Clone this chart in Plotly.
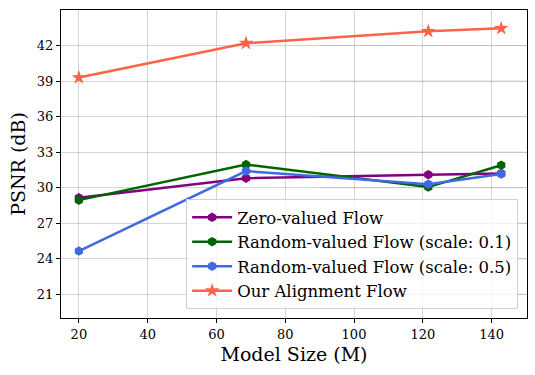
import plotly.graph_objects as go

model_size = [20, 68.6, 121.6, 142.8]
zero_flow = [29.15, 30.8, 31.1, 31.2]
rand_flow_01 = [28.95, 31.95, 30.05, 31.9]
rand_flow_05 = [24.65, 31.4, 30.3, 31.15]
our_flow = [39.3, 42.2, 43.2, 43.45]

y_ticks = [21, 24, 27, 30, 33, 36, 39, 42]
x_ticks = [20, 40, 60, 80, 100, 120, 140]

series = [
    ('Zero-valued Flow', zero_flow, '#800080', 'hexagon'),
    ('Random-valued Flow (scale: 0.1)', rand_flow_01, '#006400', 'hexagon'),
    ('Random-valued Flow (scale: 0.5)', rand_flow_05, '#4169E1', 'hexagon'),
    ('Our Alignment Flow', our_flow, '#FF6347', 'star'),
]

grid = 'rgba(176,176,176,0.55)'
x_range = [14.8, 150.3]

fig = go.Figure()
for name, vals, color, sym in series:
    fig.add_trace(go.Scatter(
        x=model_size, y=vals, name=name, mode='lines+markers',
        line=dict(color=color, width=2.5),
        marker=dict(symbol=sym, size=9.5 if sym == 'hexagon' else 11, color=color),
    ))

# the original has its horizontal grid drawn twice on the right part
for yt in y_ticks:
    fig.add_shape(type='line', xref='x', yref='y', x0=90, x1=x_range[1], y0=yt, y1=yt,
                  line=dict(color=grid, width=1), layer='below')

font = 'DejaVu Serif'
fig.update_layout(
    width=535, height=375,
    margin=dict(l=61, r=8, t=10, b=57),
    plot_bgcolor='white', paper_bgcolor='white',
    font=dict(family=font, color='black', size=13),
    legend=dict(
        x=0.981, y=0.029, xanchor='right', yanchor='bottom',
        bgcolor='rgba(255,255,255,0.8)', bordercolor='#d0d0d0', borderwidth=1,
        font=dict(size=16.5, family=font), tracegroupgap=0, itemwidth=40,
    ),
)
fig.update_xaxes(
    range=x_range, tickvals=x_ticks, automargin=False,
    title=dict(text='Model Size (M)', font=dict(size=19), standoff=6),
    showline=True, linecolor='black', linewidth=1.2, mirror=True,
    ticks='outside', ticklen=4, tickcolor='black',
    showgrid=True, gridcolor=grid, gridwidth=1, zeroline=False,
)
fig.update_yaxes(
    range=[19, 45], tickvals=y_ticks, automargin=False,
    title=dict(text='PSNR (dB)', font=dict(size=19), standoff=6),
    showline=True, linecolor='black', linewidth=1.2, mirror=True,
    ticks='outside', ticklen=4, tickcolor='black',
    showgrid=True, gridcolor=grid, gridwidth=1, zeroline=False,
)

# browser default body margin shifts the figure by 8px
fig.write_html("out.html", config={'displayModeBar': False},
               post_script="document.body.style.margin='0';")
